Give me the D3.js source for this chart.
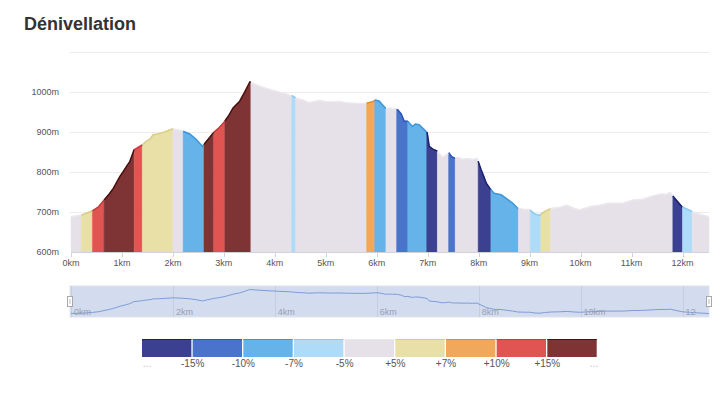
<!DOCTYPE html>
<html>
<head>
<meta charset="utf-8">
<title>Dénivellation</title>
<script src="https://cdn.jsdelivr.net/npm/d3@7"></script>
<style>
  body { margin: 0; background: #fff; }
  svg { display: block; font-family: "Liberation Sans", Arial, sans-serif; }
</style>
</head>
<body>
<svg id="chart" width="723" height="393"></svg>
<script>
// profile: distance (km) / altitude (m)
var distances = [0.00, 0.10, 0.20, 0.30, 0.42, 0.54, 0.65, 0.75, 0.83, 0.96, 1.02, 1.09, 1.15, 1.24, 1.30, 1.40, 1.48, 1.55, 1.61, 1.70,
  1.81, 1.90, 2.00, 2.10, 2.20, 2.33, 2.46, 2.58, 2.66, 2.80, 2.90, 3.00, 3.10, 3.18, 3.31, 3.40, 3.51, 3.69, 3.85, 4.02,
  4.20, 4.35, 4.44, 4.55, 4.67, 4.80, 4.87, 5.00, 5.13, 5.26, 5.39, 5.52, 5.65, 5.78, 5.92, 5.98, 6.05, 6.18, 6.25, 6.31,
  6.41, 6.48, 6.54, 6.61, 6.70, 6.76, 6.83, 6.93, 6.99, 7.03, 7.10, 7.18, 7.29, 7.35, 7.42, 7.47, 7.52, 7.60, 7.68, 7.78,
  7.88, 7.97, 8.05, 8.10, 8.15, 8.22, 8.30, 8.44, 8.54, 8.67, 8.77, 8.90, 9.00, 9.10, 9.20, 9.29, 9.42, 9.59, 9.73, 9.88,
  9.98, 10.18, 10.37, 10.54, 10.83, 11.03, 11.22, 11.42, 11.58, 11.68, 11.76, 11.81, 11.99, 12.16, 12.33, 12.52];
var altitudes = [688, 690, 692, 697, 703, 713, 730, 745, 759, 789, 800, 814, 825, 856, 860, 868, 877, 882, 893, 895,
  899, 903, 908, 905, 902, 895, 881, 864, 877, 899, 910, 924, 942, 960, 977, 998, 1025, 1015, 1008, 1002,
  996, 990, 983, 980, 973, 977, 979, 976, 975, 976, 973, 972, 971, 971, 976, 980, 977, 958, 960, 959,
  956, 945, 927, 927, 914, 920, 918, 906, 898, 864, 857, 853, 837, 842, 847, 838, 835, 836, 832, 834,
  831, 834, 805, 789, 772, 759, 747, 743, 734, 722, 709, 706, 706, 695, 692, 701, 709, 712, 717, 709,
  705, 713, 717, 722, 722, 730, 732, 740, 745, 744, 749, 740, 713, 703, 695, 688];

// slope classes: 0 = below -15% ... 4 = -5..+5 ... 8 = above +15%
var segStarts = [0.00, 0.20, 0.42, 0.65, 1.24, 1.40, 2.00, 2.20, 2.61, 2.80, 3.02, 3.53, 4.33, 4.41, 5.80, 5.96,
  6.18, 6.39, 6.61, 6.98, 7.19, 7.41, 7.54, 7.99, 8.24, 8.78, 9.01, 9.22, 9.41, 11.81, 12.00, 12.19];
var segClasses = [4, 5, 7, 8, 7, 5, 4, 2, 8, 7, 8, 4, 3, 4, 6, 2,
  4, 1, 2, 0, 4, 1, 4, 0, 2, 4, 3, 5, 4, 0, 3, 4];

var classColors = ["#3b4190", "#4a73cc", "#66b3ea", "#aedcf8", "#e6e0e8", "#e8e0a6", "#f0a85c", "#e05552", "#7e3434"];
var classLines  = ["#1b2170", "#2c56b6", "#3d95da", "#8ccaf2", "#ece8ee", "#d9cd86", "#e08a3a", "#c53a38", "#4a0f0f"];
var legendLabels = ["-15%", "-10%", "-7%", "-5%", "+5%", "+7%", "+10%", "+15%"];

var yTicks = [600, 700, 800, 900, 1000];
var xTicks = [0, 1, 2, 3, 4, 5, 6, 7, 8, 9, 10, 11, 12];
var sliderTicks = [0, 2, 4, 6, 8, 10, 12];

var profile = distances.map(function (d, i) { return {km: d, alt: altitudes[i]}; });
var maxKm = d3.max(distances);

var svg = d3.select("#chart");

svg.append("text")
  .attr("x", 24).attr("y", 30)
  .attr("font-size", 18).attr("font-weight", "bold")
  .attr("fill", "#333")
  .text("Dénivellation");

var x = d3.scaleLinear().domain([0, maxKm]).range([71, 709]);
var y = d3.scaleLinear().domain([600, 1100]).range([252, 52]);

// grid
svg.append("g").selectAll("line")
  .data([700, 800, 900, 1000, 1100]).enter()
  .append("line")
    .attr("x1", 70).attr("x2", 709)
    .attr("y1", function (d) { return y(d) + 0.5; })
    .attr("y2", function (d) { return y(d) + 0.5; })
    .attr("stroke", "#ececec");

svg.append("g").selectAll("text")
  .data(yTicks).enter()
  .append("text")
    .attr("x", 59).attr("y", function (d) { return y(d) + 3; })
    .attr("text-anchor", "end")
    .attr("font-size", 9).attr("fill", "#555")
    .text(function (d) { return d + "m"; });

function altAt(km) {
  var i = d3.bisector(function (p) { return p.km; }).right(profile, km);
  if (i <= 0) return profile[0].alt;
  if (i >= profile.length) return profile[profile.length - 1].alt;
  var a = profile[i - 1], b = profile[i];
  return a.alt + (b.alt - a.alt) * (km - a.km) / (b.km - a.km);
}

var area = d3.area()
  .x(function (p) { return x(p.km); })
  .y0(y(600))
  .y1(function (p) { return y(p.alt); });
var line = d3.line()
  .x(function (p) { return x(p.km); })
  .y(function (p) { return y(p.alt); });

var segments = segStarts.map(function (s, i) {
  var e = i < segStarts.length - 1 ? segStarts[i + 1] : maxKm;
  var pts = [{km: s, alt: altAt(s)}];
  profile.forEach(function (p) { if (p.km > s && p.km < e) pts.push(p); });
  pts.push({km: e, alt: altAt(e)});
  return {cls: segClasses[i], pts: pts};
});

var segG = svg.append("g");
segG.selectAll("path.fill")
  .data(segments).enter()
  .append("path")
    .attr("class", "fill")
    .attr("d", function (d) { return area(d.pts); })
    .attr("fill", function (d) { return classColors[d.cls]; })
    .attr("stroke", function (d) { return classColors[d.cls]; })
    .attr("stroke-width", 0.5);
segG.selectAll("path.top")
  .data(segments).enter()
  .append("path")
    .attr("class", "top")
    .attr("d", function (d) { return line(d.pts); })
    .attr("fill", "none")
    .attr("stroke", function (d) { return classLines[d.cls]; })
    .attr("stroke-width", 1.5);

// x axis
var xAxis = svg.append("g");
xAxis.append("line")
  .attr("x1", 71).attr("x2", 709)
  .attr("y1", 252.5).attr("y2", 252.5)
  .attr("stroke", "#cfd3dc");
xAxis.selectAll("line.tick")
  .data(xTicks).enter()
  .append("line")
    .attr("class", "tick")
    .attr("x1", function (d) { return Math.round(x(d)) + 0.5; })
    .attr("x2", function (d) { return Math.round(x(d)) + 0.5; })
    .attr("y1", 252).attr("y2", 257)
    .attr("stroke", "#cfd3dc");
xAxis.selectAll("text")
  .data(xTicks).enter()
  .append("text")
    .attr("x", function (d) { return x(d); })
    .attr("y", 266)
    .attr("text-anchor", "middle")
    .attr("font-size", 9).attr("fill", "#555")
    .text(function (d) { return d + "km"; });

// slider
var sy = d3.scaleLinear().domain(d3.extent(altitudes)).range([313.5, 289.5]);
var slider = svg.append("g");
slider.append("clipPath").attr("id", "sclip")
  .append("rect").attr("x", 70).attr("y", 286).attr("width", 639).attr("height", 31);
slider.append("clipPath").attr("id", "lclip")
  .append("rect").attr("x", 70).attr("y", 286).attr("width", 626).attr("height", 31);
slider.append("rect")
  .attr("x", 70).attr("y", 286).attr("width", 639).attr("height", 31)
  .attr("fill", "#d3dcef").attr("stroke", "#dfe3ea");
var sg = slider.append("g").attr("clip-path", "url(#sclip)");
sg.selectAll("line")
  .data(sliderTicks).enter()
  .append("line")
    .attr("x1", function (d) { return Math.round(x(d)) + 0.5; })
    .attr("x2", function (d) { return Math.round(x(d)) + 0.5; })
    .attr("y1", 286).attr("y2", 317)
    .attr("stroke", "#c3cde3");
slider.append("g").attr("clip-path", "url(#lclip)")
  .selectAll("text")
  .data(sliderTicks).enter()
  .append("text")
    .attr("x", function (d) { return x(d) + 3; })
    .attr("y", 315)
    .attr("font-size", 9).attr("fill", "#97a0b3")
    .text(function (d) { return d + "km"; });
sg.append("path")
  .attr("d", d3.line()
    .x(function (p) { return x(p.km); })
    .y(function (p) { return sy(p.alt); })(profile))
  .attr("fill", "none")
  .attr("stroke", "#7f9bd6")
  .attr("stroke-width", 1);
slider.selectAll("rect.handle")
  .data([70, 709]).enter()
  .append("rect")
    .attr("class", "handle")
    .attr("x", function (d) { return d - 2.5; }).attr("y", 296.5)
    .attr("width", 5).attr("height", 10)
    .attr("fill", "#fff").attr("stroke", "#a8a8a8");
slider.selectAll("line.grip")
  .data([70, 709]).enter()
  .append("line")
    .attr("class", "grip")
    .attr("x1", function (d) { return d; }).attr("x2", function (d) { return d; })
    .attr("y1", 299).attr("y2", 304)
    .attr("stroke", "#bbb");

// legend
var lx = d3.scaleLinear().domain([0, classColors.length]).range([142, 598]);
var legend = svg.append("g");
legend.selectAll("rect")
  .data(classColors).enter()
  .append("rect")
    .attr("x", function (d, i) { return lx(i); })
    .attr("y", 339)
    .attr("width", function (d, i) { return lx(i + 1) - lx(i) - 1.3; })
    .attr("height", 18)
    .attr("fill", function (d) { return d; });
legend.selectAll("line")
  .data(classLines).enter()
  .append("line")
    .attr("x1", function (d, i) { return lx(i); })
    .attr("x2", function (d, i) { return lx(i + 1) - 1.3; })
    .attr("y1", 339.5).attr("y2", 339.5)
    .attr("stroke", function (d) { return d; });
legend.selectAll("text.lbl")
  .data(legendLabels).enter()
  .append("text")
    .attr("class", "lbl")
    .attr("x", function (d, i) { return lx(i + 1); })
    .attr("y", 367)
    .attr("text-anchor", "middle")
    .attr("font-size", 10).attr("fill", "#555")
    .text(function (d) { return d; });
legend.selectAll("text.dots")
  .data([147, 594]).enter()
  .append("text")
    .attr("class", "dots")
    .attr("x", function (d) { return d; })
    .attr("y", 367)
    .attr("text-anchor", "middle")
    .attr("font-size", 10).attr("fill", "#bbb")
    .text("...");
</script>
</body>
</html>
